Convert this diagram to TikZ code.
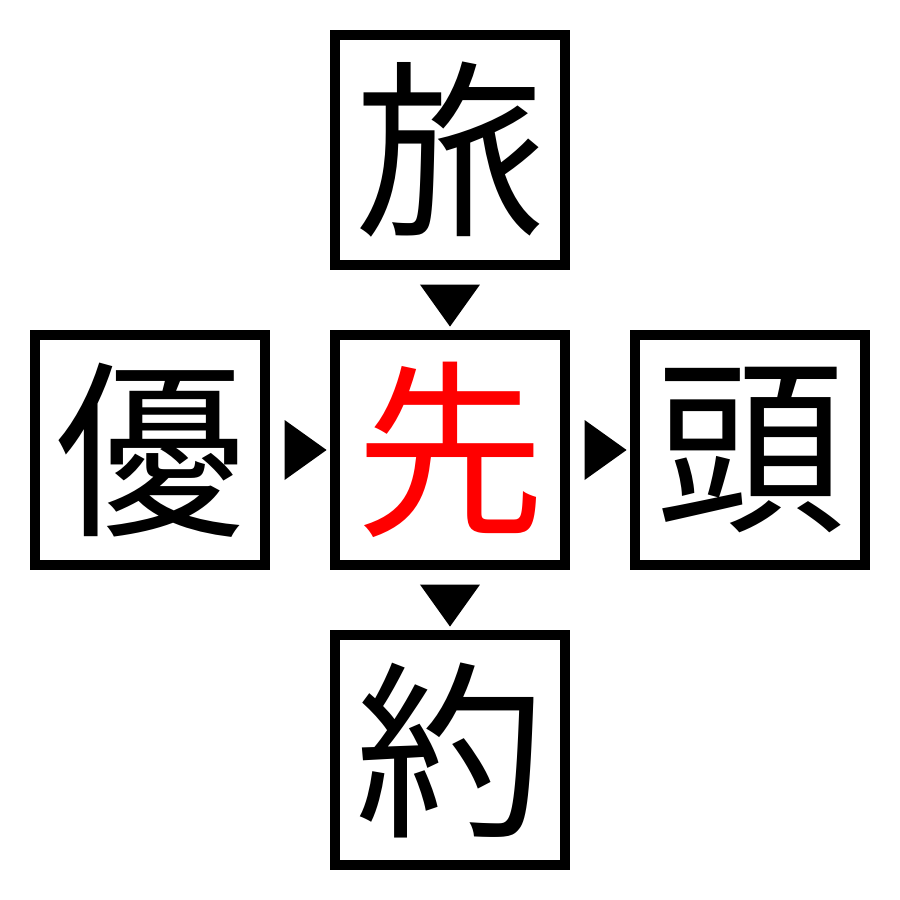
\documentclass[tikz,border=0pt]{standalone}
\usepackage{fontspec}
\usepackage{xcolor}
\usepackage{tikz}
\usetikzlibrary{positioning}
\usetikzlibrary{shapes.geometric}
\newfontfamily\cjk{Noto Sans CJK JP}

\begin{document}
\begin{tikzpicture}
    \tikzset{Kanji/.style={rectangle, draw, line width=0.2cm, minimum size=4.6cm, inner sep=0pt, font=\cjk\fontsize{108}{108}\selectfont}};
    \tikzset{Tri/.style={isosceles triangle, isosceles triangle stretches, fill, draw=none, inner sep=0pt, minimum width=1.2cm, minimum height=0.84cm}};
    \useasboundingbox (-9,-9) rectangle (9,9);
    \node[Kanji, text=red] (c) {先};
    \node[Kanji][above=1.2cm of c] (t) {旅};
    \node[Kanji][left=1.2cm of c] (l) {優};
    \node[Kanji][right=1.2cm of c] (r) {頭};
    \node[Kanji][below=1.2cm of c] (b) {約};
    \path (t) -- node[Tri, shape border rotate=-90] {} (c);
    \path (l) -- node[Tri] {} (c);
    \path (c) -- node[Tri] {} (r);
    \path (c) -- node[Tri, shape border rotate=-90] {} (b);
  \end{tikzpicture}
\end{document}
